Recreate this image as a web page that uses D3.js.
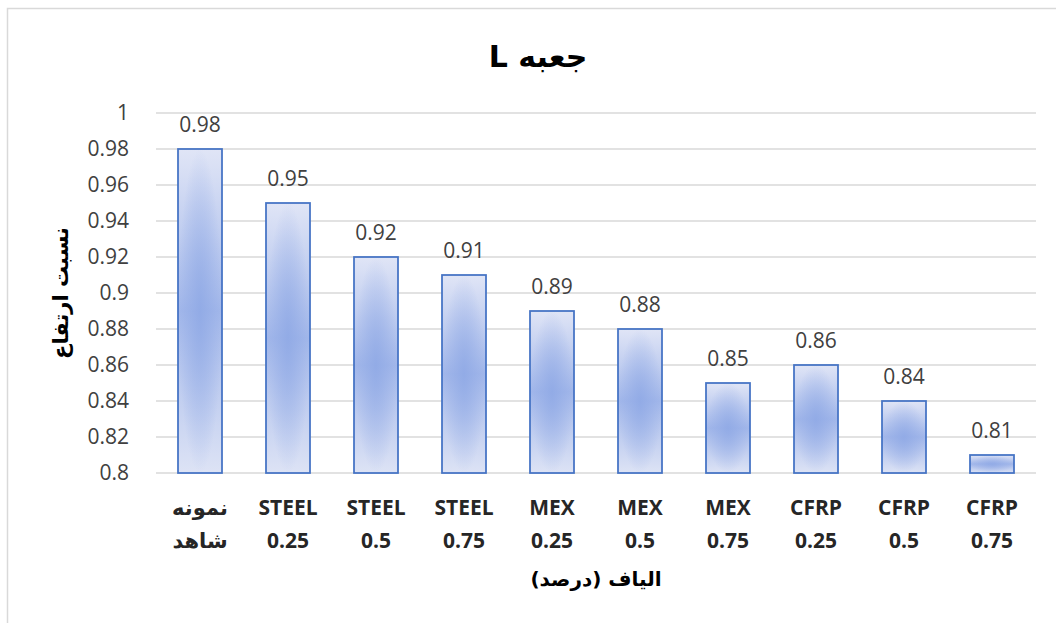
<!DOCTYPE html>
<html>
<head>
<meta charset="utf-8">
<script src="https://cdn.jsdelivr.net/npm/d3@7"></script>
<style>
  body { margin: 0; background: #fff; }
  svg { display: block; }
</style>
</head>
<body>
<svg id="chart" width="1056" height="623"></svg>
<script>
const categories = [
  ['نمونه', 'شاهد'],
  ['STEEL', '0.25'],
  ['STEEL', '0.5'],
  ['STEEL', '0.75'],
  ['MEX', '0.25'],
  ['MEX', '0.5'],
  ['MEX', '0.75'],
  ['CFRP', '0.25'],
  ['CFRP', '0.5'],
  ['CFRP', '0.75']
];
const values = [0.98, 0.95, 0.92, 0.91, 0.89, 0.88, 0.85, 0.86, 0.84, 0.81];
const yTicks = [0.8, 0.82, 0.84, 0.86, 0.88, 0.9, 0.92, 0.94, 0.96, 0.98, 1];
const title = 'جعبه L';
const yTitle = 'نسبت ارتفاع';
const xTitle = 'الیاف (درصد)';

const svg = d3.select('#chart');
const padding = { top: 113, right: 20, bottom: 150, left: 156 };
const width = 1036 - padding.left;
const height = 473 - padding.top;

// outer frame (right and bottom edges fall outside the picture)
svg.append('rect')
  .attr('x', 7.5).attr('y', 8.5)
  .attr('width', 1070).attr('height', 640)
  .attr('fill', 'none')
  .attr('stroke', '#d9d9d9')
  .attr('stroke-width', 1.5);

// bar fill: vertical light-dark-light band plus soft centre glow
const defs = svg.append('defs');
const lin = defs.append('linearGradient')
  .attr('id', 'barLin')
  .attr('x1', 0).attr('y1', 0).attr('x2', 0).attr('y2', 1);
lin.append('stop').attr('offset', '0%').attr('stop-color', '#e0e5f6');
lin.append('stop').attr('offset', '50%').attr('stop-color', '#a2b7ea');
lin.append('stop').attr('offset', '100%').attr('stop-color', '#dde3f5');

const rad = defs.append('radialGradient')
  .attr('id', 'barRad')
  .attr('cx', '50%').attr('cy', '50%').attr('r', '50%');
rad.append('stop').attr('offset', '0%').attr('stop-color', '#8ea8e5').attr('stop-opacity', 0.8);
rad.append('stop').attr('offset', '100%').attr('stop-color', '#8ea8e5').attr('stop-opacity', 0);

const x = d3.scaleBand()
  .domain(d3.range(categories.length))
  .range([0, width])
  .paddingInner(0.5)
  .paddingOuter(0.25);

const y = d3.scaleLinear().domain([0.8, 1]).range([height, 0]);

const canvas = svg.append('g')
  .attr('transform', `translate(${padding.left}, ${padding.top})`);

// gridlines
canvas.append('g')
  .selectAll('line')
  .data(yTicks)
  .join('line')
  .attr('x1', 0).attr('x2', width)
  .attr('y1', d => y(d)).attr('y2', d => y(d))
  .attr('stroke', '#d9d9d9')
  .attr('stroke-width', 1.5);

// y axis labels
const yAxis = canvas.append('g')
  .call(d3.axisLeft(y).tickValues(yTicks).tickSize(0).tickPadding(27).tickFormat(d3.format('~g')));
yAxis.select('.domain').remove();
yAxis.selectAll('text')
  .attr('font-family', '"Open Sans", Carlito, sans-serif')
  .attr('font-size', 21)
  .attr('fill', '#404040');

// bars
const bars = canvas.append('g');
bars.selectAll('rect.lin')
  .data(values)
  .join('rect')
  .attr('class', 'lin')
  .attr('x', (d, i) => x(i))
  .attr('y', d => y(d))
  .attr('width', x.bandwidth())
  .attr('height', d => height - y(d))
  .attr('fill', 'url(#barLin)');
bars.selectAll('rect.rad')
  .data(values)
  .join('rect')
  .attr('class', 'rad')
  .attr('x', (d, i) => x(i))
  .attr('y', d => y(d))
  .attr('width', x.bandwidth())
  .attr('height', d => height - y(d))
  .attr('fill', 'url(#barRad)')
  .attr('stroke', '#4472c4')
  .attr('stroke-width', 1.75);

// data labels
canvas.append('g')
  .selectAll('text')
  .data(values)
  .join('text')
  .attr('x', (d, i) => x(i) + x.bandwidth() / 2)
  .attr('y', d => y(d) - 17)
  .attr('text-anchor', 'middle')
  .attr('font-family', '"Open Sans", Carlito, sans-serif')
  .attr('font-size', 21)
  .attr('fill', '#404040')
  .text(d => d3.format('~g')(d));

// x category labels
const xl = canvas.append('g')
  .selectAll('text')
  .data(categories)
  .join('text')
  .attr('x', (d, i) => x(i) + x.bandwidth() / 2)
  .attr('y', height + 42)
  .attr('text-anchor', 'middle')
  .attr('font-family', '"Open Sans", "DejaVu Sans", sans-serif')
  .attr('font-weight', 700)
  .attr('font-size', 21)
  .attr('fill', '#262626');
xl.selectAll('tspan')
  .data(d => d)
  .join('tspan')
  .attr('x', function() { return d3.select(this.parentNode).attr('x'); })
  .attr('dy', (d, i) => i === 0 ? 0 : 33)
  .text(d => d);

// title
svg.append('text')
  .attr('x', 538).attr('y', 67)
  .attr('text-anchor', 'middle')
  .attr('direction', 'rtl')
  .attr('font-family', '"DejaVu Sans", sans-serif')
  .attr('font-weight', 700)
  .attr('font-size', 30)
  .attr('fill', '#000')
  .text(title);

// axis titles
svg.append('text')
  .attr('transform', `translate(68, ${padding.top + height / 2}) rotate(-90)`)
  .attr('text-anchor', 'middle')
  .attr('direction', 'rtl')
  .attr('font-family', '"DejaVu Sans", sans-serif')
  .attr('font-weight', 700)
  .attr('font-size', 21)
  .attr('fill', '#000')
  .text(yTitle);

svg.append('text')
  .attr('x', padding.left + width / 2).attr('y', 586)
  .attr('text-anchor', 'middle')
  .attr('direction', 'rtl')
  .attr('font-family', '"DejaVu Sans", sans-serif')
  .attr('font-weight', 700)
  .attr('font-size', 20)
  .attr('fill', '#000')
  .text(xTitle);
</script>
</body>
</html>
